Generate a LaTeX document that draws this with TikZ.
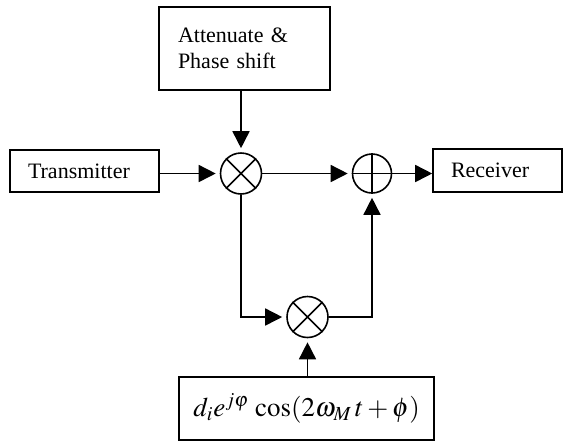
\documentclass[tikz,border=0pt]{standalone}
\usepackage{mathptmx}
\usepackage{fontspec}
\setmainfont{Liberation Serif}
\usetikzlibrary{arrows.meta}

\tikzset{
  blk/.style={draw, line width=0.8pt, rectangle, inner ysep=0pt,
    font=\fontsize{11}{13}\selectfont},
  junction/.style={draw, line width=0.8pt, circle, inner sep=0pt},
  wire/.style={line width=0.8pt},
  sig/.style={wire, -{Triangle[length=8.5pt,width=8.5pt]}},
  tocirc/.style={sig, shorten >=2pt},
}

\begin{document}
\begin{tikzpicture}[x=0.5pt, y=-0.5pt]
  \useasboundingbox (0,0) rectangle (566,441);

  % blocks
  \node[blk, minimum width=85.5pt, minimum height=41.5pt,
        inner xsep=9.5pt, text width=66.5pt, align=left]
        (att) at (244.5,48.5) {Attenuate \&\\Phase shift};
  \node[blk, minimum width=74.5pt, minimum height=21pt,
        inner xsep=9pt, text width=56.5pt, align=left]
        (tx) at (84.5,171) {Transmitter};
  \node[blk, minimum width=64.5pt, minimum height=21.5pt,
        inner xsep=9pt, text width=46.5pt, align=left]
        (rx) at (497.5,170.5) {Receiver};
  \node[blk, minimum width=127.5pt, minimum height=31.5pt,
        font=\fontsize{13.5}{15}\selectfont]
        (osc) at (306.5,408.5) {$d_i e^{j\varphi}\,\cos(2\omega_M\,t + \phi)$};

  % mixers and adder
  \node[junction, minimum size=20.5pt] (mix) at (241,173.5) {};
  \node[junction, minimum size=19.5pt] (sum) at (372,173.5) {};
  \node[junction, minimum size=20.5pt] (mixb) at (307.5,317) {};

  \draw[wire] (mix.45) -- (mix.225) (mix.135) -- (mix.315);
  \draw[wire] (mixb.45) -- (mixb.225) (mixb.135) -- (mixb.315);
  \draw[wire] (sum.north) -- (sum.south) (sum.west) -- (sum.east);

  % signal paths
  \coordinate (attout) at (mix |- att.south);
  \draw[tocirc] (attout) -- (mix.north);
  \draw[tocirc] (tx.east |- mix) -- (mix.west);
  \draw[tocirc] (mix.east) -- (sum.west |- mix);
  \draw[sig] (sum.east) -- (rx.west |- sum);
  \draw[tocirc] (mix.south) |- (mixb.west);
  \draw[tocirc] (mixb.east) -| (sum.south);
  \draw[tocirc] (mixb |- osc.north) -- (mixb.south);
\end{tikzpicture}
\end{document}
